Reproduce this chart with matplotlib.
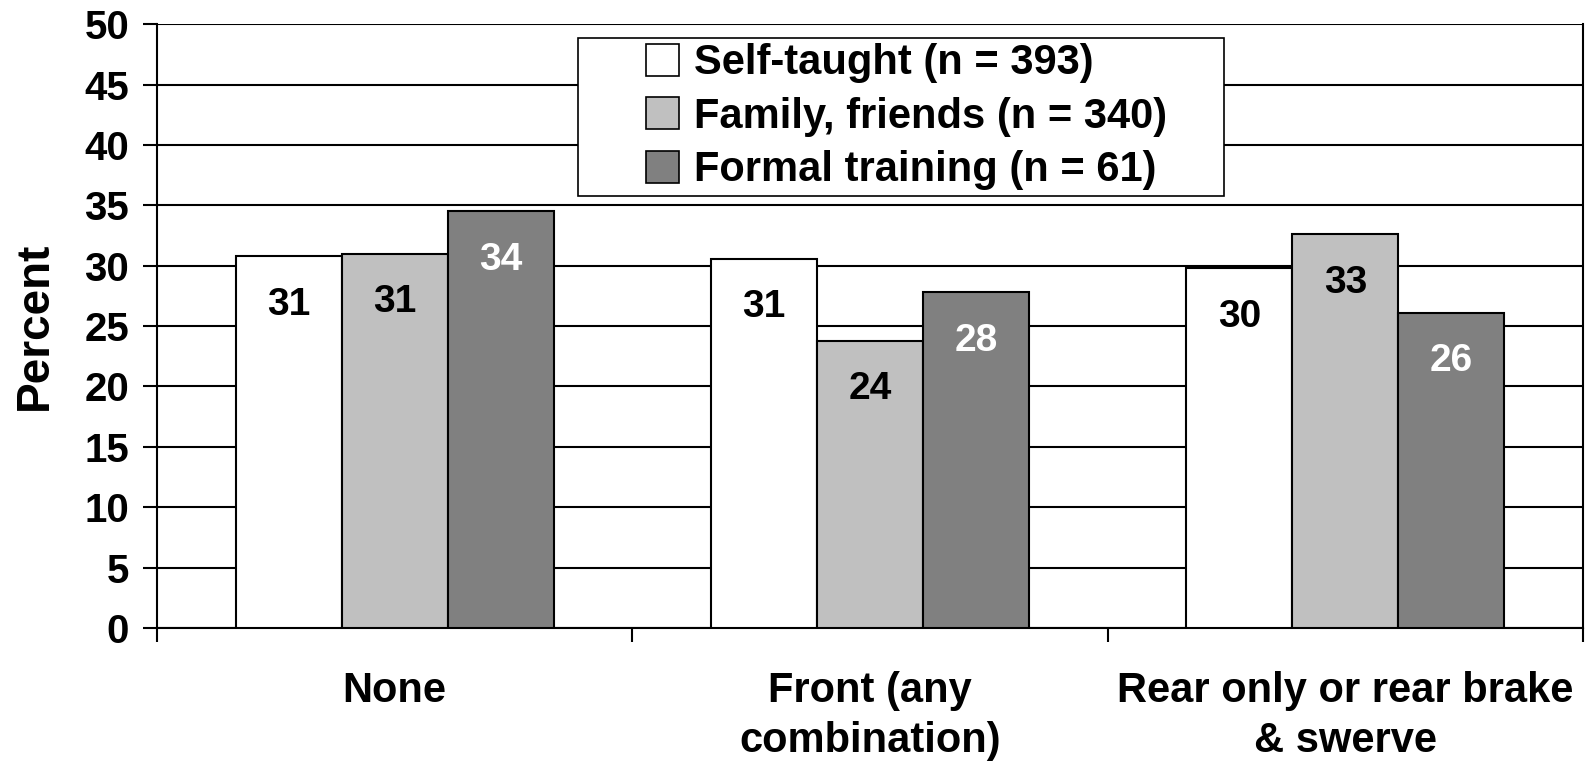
import numpy as np
import matplotlib
matplotlib.use("Agg")
import matplotlib.pyplot as plt
from matplotlib.patches import Patch, Rectangle

plt.rcParams['font.family'] = ['Liberation Sans', 'DejaVu Sans']
plt.rcParams['font.weight'] = 'bold'

categories = ["None", "Front (any\ncombination)", "Rear only or rear brake\n& swerve"]
series_names = ["Self-taught (n = 393)", "Family, friends (n = 340)", "Formal training (n = 61)"]
self_taught = [30.8, 30.6, 29.8]
family_friends = [31.0, 23.8, 32.6]
formal_training = [34.5, 27.8, 26.1]

colors = ["#FFFFFF", "#C0C0C0", "#808080"]
label_colors = ["black", "black", "white"]

fig = plt.figure(figsize=(15.89, 7.62), dpi=100)
ax = fig.add_axes([0.0988, 0.176, 0.8974, 0.792])

x = np.arange(len(categories))
width = 0.223
all_series = [self_taught, family_friends, formal_training]
for i, vals in enumerate(all_series):
    pos = x + (i - 1) * width
    bars = ax.bar(pos, vals, width, color=colors[i], edgecolor="black",
                  linewidth=1.5, zorder=3, label=series_names[i])
    for b, v in zip(bars, vals):
        ax.annotate("%.0f" % v, (b.get_x() + b.get_width() / 2, v),
                    xytext=(0, -22), textcoords="offset points",
                    ha="center", va="top", fontsize=28, fontweight="bold",
                    color=label_colors[i], zorder=4)

ax.set_ylim(0, 50)
ax.set_xlim(-0.5, len(categories) - 0.5)
ax.set_yticks(np.arange(0, 51, 5))
ax.yaxis.grid(True, color="black", linewidth=1.5)
ax.set_axisbelow(True)

# category labels in the middle, tick marks on the group boundaries
ax.set_xticks(x)
ax.set_xticklabels(categories, fontsize=30, fontweight="bold", va="top",
                   linespacing=1.32)
ax.tick_params(axis="x", which="major", length=0, pad=31)
ax.set_xticks(np.arange(-0.5, len(categories)), minor=True)
ax.tick_params(axis="x", which="minor", length=10, width=1.5, direction="out")
ax.tick_params(axis="y", labelsize=29, length=10, width=1.5, pad=10)
for lab in ax.get_yticklabels():
    lab.set_fontweight("bold")

for s in ax.spines.values():
    s.set_linewidth(1.5)
ax.spines["top"].set_visible(False)

ax.set_ylabel("Percent", fontsize=33, fontweight="bold", labelpad=20)

# legend box drawn separately so it can have wide side padding
ax.add_patch(Rectangle((0.295, 0.716), 0.453, 0.262, transform=ax.transAxes,
                       facecolor="white", edgecolor="black", linewidth=1.2,
                       zorder=5))
handles = [Patch(facecolor=c, edgecolor="black", linewidth=1.2) for c in colors]
leg = ax.legend(handles, series_names, loc="center left",
                bbox_to_anchor=(0.343, 0.847), borderaxespad=0,
                prop={"size": 30, "weight": "bold"}, frameon=False,
                handlelength=0.8, handleheight=0.8,
                handletextpad=0.35, labelspacing=0.32, borderpad=0)
leg.set_zorder(6)

fig.savefig("out.png", dpi=100)
